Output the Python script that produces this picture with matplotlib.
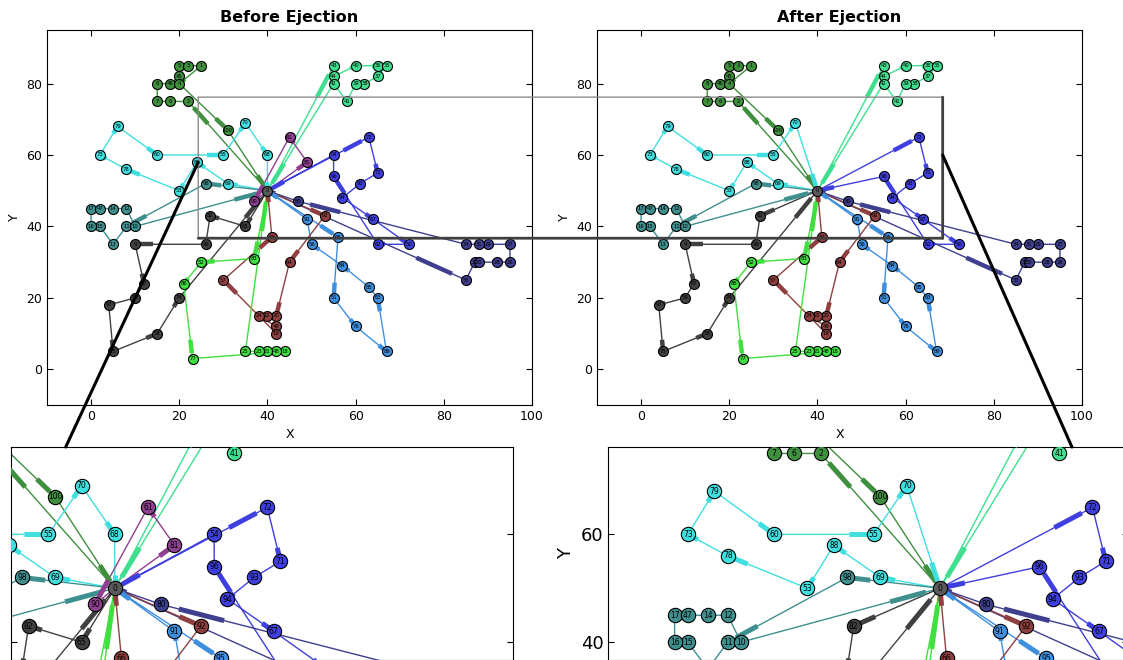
import matplotlib
matplotlib.use("Agg")
import matplotlib.pyplot as plt
from matplotlib.patches import ConnectionPatch

# customer coordinates, index = node number (0 is the depot)
node_x = [40, 25, 22, 22, 20, 20, 18, 15, 15, 10,
          10, 8, 8, 5, 5, 2, 0, 0, 44, 42,
          42, 40, 40, 38, 38, 35, 95, 95, 92, 90,
          88, 88, 87, 85, 85, 67, 65, 65, 62, 60,
          60, 58, 55, 55, 55, 20, 18, 2, 42, 42,
          72, 55, 25, 20, 55, 30, 50, 30, 15, 10,
          15, 45, 65, 65, 45, 35, 41, 64, 40, 31,
          35, 65, 63, 2, 20, 5, 60, 23, 8, 6,
          47, 49, 27, 37, 57, 63, 21, 12, 24, 67,
          37, 49, 53, 61, 57, 56, 55, 4, 26, 26,
          31]
node_y = [50, 85, 75, 85, 80, 85, 75, 75, 80, 35,
          40, 40, 45, 35, 45, 40, 40, 45, 5, 10,
          15, 5, 15, 5, 15, 5, 30, 35, 30, 35,
          30, 35, 30, 25, 35, 85, 85, 82, 80, 80,
          85, 75, 80, 85, 82, 82, 80, 45, 5, 12,
          35, 20, 30, 50, 60, 60, 35, 25, 10, 20,
          60, 65, 35, 20, 30, 40, 37, 42, 60, 52,
          69, 55, 65, 60, 20, 5, 12, 3, 56, 68,
          47, 58, 43, 31, 29, 23, 24, 24, 58, 5,
          47, 42, 43, 52, 48, 37, 54, 18, 52, 35,
          67]

route_colors = ['#3f8f3f', '#3fdf8f', '#3fdfdf', '#3f8f8f', '#3f3fdf', '#3f3f8f',
                '#3f8fdf', '#8f3f3f', '#404040', '#3fdf3f', '#8f3f8f']

routes_before = [
    [0, 2, 6, 7, 8, 46, 45, 5, 3, 1, 4, 100, 0],
    [0, 43, 44, 40, 36, 35, 37, 38, 39, 41, 42, 0],
    [0, 69, 88, 53, 78, 73, 79, 60, 55, 70, 68, 0],
    [0, 98, 11, 13, 15, 16, 17, 47, 14, 12, 10, 0],
    [0, 72, 71, 93, 94, 67, 50, 62, 96, 54, 0],
    [0, 33, 32, 30, 28, 26, 27, 29, 31, 34, 80, 0],
    [0, 95, 51, 76, 89, 63, 85, 84, 56, 91, 0],
    [0, 92, 64, 20, 22, 24, 49, 19, 57, 66, 0],
    [0, 65, 82, 99, 9, 87, 59, 97, 75, 58, 74, 0],
    [0, 83, 52, 86, 77, 18, 48, 21, 23, 25, 0],
    [0, 81, 61, 90, 0],
]
ejected = [68, 54, 65, 81, 61, 90]
routes_after = [[n for n in r if n not in ejected] for r in routes_before]

DEPOT_COLOR = '#5a5a5a'

# zoom window
zoom_x0, zoom_x1 = 24.3, 68.4
zoom_y0, zoom_y1 = 36.7, 76.2


def draw_routes(ax, routes, node_s, label_fs, thick_lw, xlim, ylim):
    def inside(n):
        return xlim[0] <= node_x[n] <= xlim[1] and ylim[0] <= node_y[n] <= ylim[1]

    for route, color in zip(routes, route_colors):
        if len(route) <= 2:
            continue
        xs = [node_x[n] for n in route]
        ys = [node_y[n] for n in route]
        ax.plot(xs, ys, color=color, lw=1.0, zorder=2)
        for a, b in zip(route[:-1], route[1:]):
            x0, y0 = node_x[a], node_y[a]
            dx, dy = node_x[b] - x0, node_y[b] - y0
            ax.plot([x0 + 0.75 * dx, x0 + 0.93 * dx], [y0 + 0.75 * dy, y0 + 0.93 * dy],
                    color=color, lw=thick_lw, solid_capstyle='butt', zorder=3)
        ax.scatter(xs[1:-1], ys[1:-1], s=node_s, c=color, edgecolors='k',
                   linewidths=0.8, zorder=4)
        for n in route[1:-1]:
            if inside(n):
                ax.text(node_x[n], node_y[n], str(n), fontsize=label_fs, ha='center',
                        va='center', zorder=5, clip_on=True)
    ax.scatter([node_x[0]], [node_y[0]], s=node_s, c=DEPOT_COLOR, edgecolors='k',
               linewidths=0.8, zorder=4)
    ax.text(node_x[0], node_y[0], '0', fontsize=label_fs, ha='center', va='center',
            zorder=5, clip_on=True)
    ax.set_xlim(*xlim)
    ax.set_ylim(*ylim)


fig = plt.figure(figsize=(11.23, 6.6), dpi=100)
W, H = 1123.0, 660.0
ax1 = fig.add_axes([47 / W, 1 - 405 / H, 485 / W, 375 / H])
ax2 = fig.add_axes([597 / W, 1 - 405 / H, 485 / W, 375 / H])
ins1 = fig.add_axes([10.7 / W, 0, 501.8 / W, 213 / H])
ins2 = fig.add_axes([608.3 / W, 0, 520 / W, 213 / H])

for ax, routes, title in [(ax1, routes_before, 'Before Ejection'),
                          (ax2, routes_after, 'After Ejection')]:
    draw_routes(ax, routes, 52, 3.8, 3.2, (-10, 100), (-10, 95))
    ax.set_xticks([0, 20, 40, 60, 80, 100])
    ax.set_yticks([0, 20, 40, 60, 80])
    ax.tick_params(direction='in', top=True, right=True, labelsize=9, length=4)
    ax.set_xlabel('X', fontsize=9)
    ax.set_ylabel('Y', fontsize=9)
    ax.set_title(title, fontweight='bold', fontsize=11.5)

draw_routes(ins1, routes_before, 106, 5.5, 3.6, (zoom_x0, 100), (zoom_y0, zoom_y1))
draw_routes(ins2, routes_after, 106, 5.5, 3.6, (-10, zoom_x1), (zoom_y0, zoom_y1))
for ins in (ins1, ins2):
    ins.set_yticks([40, 60])
    ins.set_xticks([])
    ins.tick_params(direction='in', right=True, top=False, labelsize=13, length=4)
ins1.tick_params(labelleft=False)
ins2.set_ylabel('Y', fontsize=13)


def connect(axa, pa, axb, pb, color, lw):
    con = ConnectionPatch(xyA=pa, coordsA='data', axesA=axa,
                          xyB=pb, coordsB='data', axesB=axb,
                          color=color, lw=lw)
    fig.add_artist(con)


# zoom box across both panels
connect(ax1, (zoom_x0, zoom_y1), ax2, (zoom_x1, zoom_y1), '0.55', 1.0)
connect(ax1, (zoom_x0, zoom_y0), ax1, (zoom_x0, zoom_y1), '0.55', 1.0)
connect(ax1, (zoom_x0, zoom_y0), ax2, (zoom_x1, zoom_y0), '0.25', 2.0)
connect(ax2, (zoom_x1, zoom_y0), ax2, (zoom_x1, zoom_y1), '0.25', 2.0)

# connectors to the zoomed panels
link1_y, link1_x = 58, 32.6
link2_y, link2_x = 60, 59.9
connect(ax1, (zoom_x0, link1_y), ins1, (link1_x, zoom_y1), 'k', 2.2)
connect(ax2, (zoom_x1, link2_y), ins2, (link2_x, zoom_y1), 'k', 2.2)

fig.savefig('out.png', dpi=100)
